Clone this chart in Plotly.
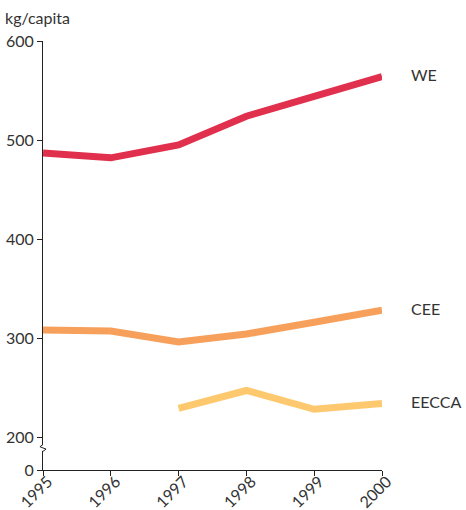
import plotly.graph_objects as go

years = [1995, 1996, 1997, 1998, 1999, 2000]
we = [487, 482, 495, 524, 544, 564]
cee = [308, 307, 296, 304, 316, 328]
eecca = [None, None, 229, 247, 228, 234]

series_names = ['WE', 'CEE', 'EECCA']
series_values = [we, cee, eecca]
colors = ['#e0304e', '#f7a05c', '#fec96e']

# broken axis: the 0..200 part is squeezed under the 200 tick
zero_pos = 166.7
tick_vals = [zero_pos, 200, 300, 400, 500, 600]
tick_text = ['0', '200', '300', '400', '500', '600']

font = dict(family='Lato, "Open Sans", sans-serif', size=16, color='#333333')

fig = go.Figure()
for name, vals, col in zip(series_names, series_values, colors):
    fig.add_trace(go.Scatter(
        x=years, y=vals, mode='lines', name=name,
        line=dict(color=col, width=7),
        connectgaps=False, cliponaxis=False,
    ))
    last = [v for v in vals if v is not None][-1]
    fig.add_annotation(
        x=2000, y=last, xref='x', yref='y', text=name,
        showarrow=False, xanchor='left', xshift=27, yshift=2,
        font=font,
    )

fig.add_annotation(
    x=0, y=1, xref='paper', yref='paper', text='kg/capita',
    showarrow=False, xanchor='left', yanchor='bottom',
    xshift=-40, yshift=12, font=font,
)

# break mark on the y axis
brk = 189
fig.add_shape(type='rect', xref='paper', yref='y', x0=-0.01, x1=0.01,
              y0=brk - 3, y1=brk + 3, fillcolor='white', line=dict(width=0), layer='above')
fig.add_shape(type='path', xref='paper', yref='y',
              path='M 0,{a} L -0.009,{b} L 0.009,{c} L 0,{d}'.format(
                  a=brk + 3.5, b=brk + 1.2, c=brk - 1.2, d=brk - 3.5),
              line=dict(color='#222222', width=1), layer='above')

fig.update_layout(
    width=466, height=510,
    margin=dict(l=43, r=84, t=41, b=40),
    paper_bgcolor='white', plot_bgcolor='white',
    showlegend=False,
    font=font,
    xaxis=dict(
        range=[1995, 2000], tickvals=years, ticktext=[str(y) for y in years],
        tickangle=-45, showgrid=False, zeroline=False, automargin=False,
        showline=True, linecolor='#222222', linewidth=1,
        ticks='outside', ticklen=5, tickcolor='#222222',
        tickfont=font, ticklabelstandoff=-10, ticklabelshift=5,
    ),
    yaxis=dict(
        range=[zero_pos, 600], tickvals=tick_vals, ticktext=tick_text,
        showgrid=False, zeroline=False, automargin=False,
        showline=True, linecolor='#222222', linewidth=1,
        ticks='outside', ticklen=5, tickcolor='#222222',
        tickfont=font,
    ),
)

# drop the page's default body margin so the figure fills the window
fig.write_html("out.html", config=dict(displayModeBar=False),
               post_script="document.body.style.margin = '0';")
